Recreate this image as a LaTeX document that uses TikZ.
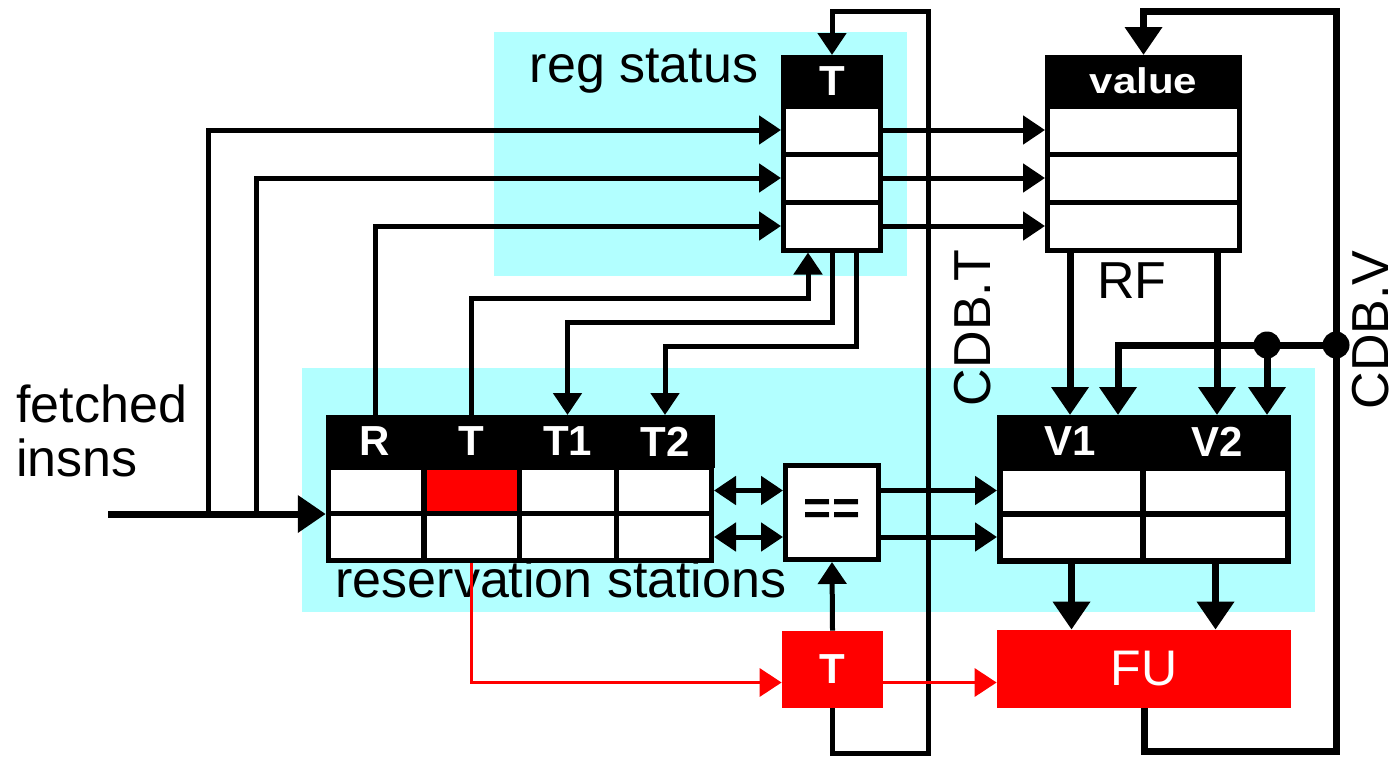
\documentclass[tikz,border=0pt]{standalone}
\usepackage{fontspec}
\setmainfont{Liberation Sans}
\usepackage{graphicx}
\usetikzlibrary{arrows.meta,calc}
\definecolor{cyanbg}{RGB}{178,255,255}
\definecolor{pred}{RGB}{255,0,0}
\begin{document}
\begin{tikzpicture}[x=0.5pt,y=-0.5pt,
  tagline/.style={line width=2.5pt},
  dataline/.style={line width=3.5pt},
  redline/.style={line width=1.75pt, draw=pred},
  sa/.style={-{Triangle[length=11pt,width=14pt]}},
  ba/.style={-{Triangle[length=14pt,width=18pt]}},
  da/.style={{Triangle[length=11pt,width=14pt]}-{Triangle[length=11pt,width=14pt]}},
  cell/.style={draw, line width=2.5pt, fill=white, inner sep=0pt},
  vcell/.style={draw, line width=3pt, fill=white, inner sep=0pt},
  hdr/.style={fill=black, text=white, inner sep=0pt, outer sep=0pt, font=\fontsize{21}{21}\selectfont\bfseries},
  lbl/.style={font=\fontsize{26}{30}\selectfont, inner sep=0pt},
]
\useasboundingbox (0,0) rectangle (1400,760);
% backgrounds
\fill[cyanbg] (494,32) rectangle (907,276);
\fill[cyanbg] (302,368) rectangle (1315,612);

% labels
\node[lbl, anchor=base] (lreg) at (644,82) {reg status};
\node[lbl, anchor=base west] (lfetch) at (16,422) {fetched};
\node[lbl, anchor=base west] (linsns) at (16,476) {insns};
\node[lbl, anchor=base] (lrf) at (1132,298) {RF};
\node[lbl, anchor=base] (lrs) at (561,597) {reservation stations};
\node[lbl, anchor=base, rotate=90] (lcdbt) at (990,328) {CDB.T};
\node[lbl, anchor=base, rotate=90] (lcdbv) at (1388,330) {CDB.V};

% reg status table
\node[hdr, minimum width=51pt, minimum height=26pt] (rsh) at (832,81) {T};
\node[cell, minimum width=48.5pt, minimum height=24pt] (rsr1) at (832,130) {};
\node[cell, minimum width=48.5pt, minimum height=24pt] (rsr2) at (832,178) {};
\node[cell, minimum width=48.5pt, minimum height=24pt] (rsr3) at (832,226) {};

% register file
\node[hdr, minimum width=98.5pt, minimum height=26pt] (rfh) at (1143.5,81) {\scalebox{1}[0.85]{\fontsize{21}{21}\selectfont\bfseries value}};
\node[cell, minimum width=96pt, minimum height=24pt] (rf1) at (1143.5,130) {};
\node[cell, minimum width=96pt, minimum height=24pt] (rf2) at (1143.5,178) {};
\node[cell, minimum width=96pt, minimum height=24pt] (rf3) at (1143.5,226) {};

% reservation station tag table
\node[hdr, minimum width=49.5pt, minimum height=26.5pt] (rshR) at (375,441.5) {R};
\node[hdr, minimum width=48pt, minimum height=26.5pt] (rshT) at (471.5,441.5) {T};
\node[hdr, minimum width=49pt, minimum height=26.5pt] (rshT1) at (567.5,441.5) {T1};
\node[hdr, minimum width=49.5pt, minimum height=26.5pt] (rshT2) at (665,441.5) {T2};
\node[cell, minimum width=47.75pt, minimum height=23pt] (rsRa) at (376,490.5) {};
\node[cell, minimum width=47.5pt, minimum height=23pt, fill=pred] (rsTa) at (471.5,490.5) {};
\node[cell, minimum width=48.5pt, minimum height=23pt] (rsT1a) at (567.5,490.5) {};
\node[cell, minimum width=47.75pt, minimum height=23pt] (rsT2a) at (663.75,490.5) {};
\node[cell, minimum width=47.75pt, minimum height=23.5pt] (rsRb) at (376,537) {};
\node[cell, minimum width=47.5pt, minimum height=23.5pt] (rsTb) at (471.5,537) {};
\node[cell, minimum width=48.5pt, minimum height=23.5pt] (rsT1b) at (567.5,537) {};
\node[cell, minimum width=47.75pt, minimum height=23.5pt] (rsT2b) at (663.75,537) {};

% reservation station value table
\node[hdr, minimum width=73pt, minimum height=26.5pt] (vh1) at (1070,441.5) {V1};
\node[hdr, minimum width=74pt, minimum height=26.5pt] (vh2) at (1217,441.5) {V2};
\node[vcell, minimum width=71.5pt, minimum height=23pt] (v1a) at (1071.5,490.5) {};
\node[vcell, minimum width=72.5pt, minimum height=23pt] (v2a) at (1215.5,490.5) {};
\node[vcell, minimum width=71.5pt, minimum height=23.5pt] (v1b) at (1071.5,537) {};
\node[vcell, minimum width=72.5pt, minimum height=23.5pt] (v2b) at (1215.5,537) {};

% comparator, tag register, functional unit
\node[cell, minimum width=46.5pt, minimum height=47pt, font=\fontsize{24}{24}\selectfont\bfseries] (eq) at (832,512.5) {==};
\node[fill=pred, text=white, inner sep=0pt, minimum width=50.5pt, minimum height=38.5pt, font=\fontsize{21}{21}\selectfont\bfseries] (tT) at (832.5,669.5) {T};
\node[fill=pred, text=white, inner sep=0pt, minimum width=147pt, minimum height=39pt, font=\fontsize{25}{25}\selectfont] (fu) at (1144,669) {FU};

% coordinates
\coordinate (fin) at (108,514);
\coordinate (j1) at (208,514);
\coordinate (j2) at (256,514);
\coordinate (cbtB) at (928,753);
\coordinate (cbtT) at (928,11);
\coordinate (cbvB) at (1336,751);
\coordinate (cbvT) at (1336,11);
\coordinate (d1) at (1336,345);
\coordinate (d2) at (1267,345);

% fetched instructions
\draw[dataline, ba] (fin) -- (fin -| rsRa.west);
\draw[tagline, sa] (j1) |- (rsr1.west);
\draw[tagline, sa] (j2) |- (rsr2.west);
\draw[tagline, sa] (rshR.north) |- (rsr3.west);

% tags between reg status and RS
\draw[tagline, sa] (rshT.north) |- (808,298) -- ([xshift=-12pt]rsr3.south);
\draw[tagline, sa] (rsr3.south) -- (832,322) -| (rshT1.north);
\draw[tagline, sa] ([xshift=12pt]rsr3.south) -- (856,346) -| (rshT2.north);

% reg status to RF
\draw[tagline, sa] (rsr1.east) -- (rf1.west);
\draw[tagline, sa] (rsr2.east) -- (rf2.west);
\draw[tagline, sa] (rsr3.east) -- (rf3.west);

% CDB.T loop
\draw[tagline, sa] (tT.south) |- (cbtB) -- (cbtT) -| (rsh.north);
\draw[tagline, sa] (tT.north) -- (eq.south);

% CDB.V loop
\draw[dataline, ba] (fu.south) |- (cbvB) -- (cbvT) -| (rfh.north);
\draw[dataline, ba] (rf3.south -| vh1.north) -- (vh1.north);
\draw[dataline, ba] (rf3.south -| vh2.north) -- (vh2.north);
\draw[dataline, ba] (d1) -| ([xshift=24pt]vh1.north);
\draw[dataline, ba] (d2) -- (d2 |- vh2.north);
\fill (d1) circle (6.75pt);
\fill (d2) circle (6.75pt);

% values to FU
\draw[dataline, ba] (v1b.south) -- (v1b.south |- fu.north);
\draw[dataline, ba] (v2b.south) -- (v2b.south |- fu.north);

% comparator connections
\draw[tagline, da] (rsT2a.east) -- (rsT2a.east -| eq.west);
\draw[tagline, da] (rsT2b.east) -- (rsT2b.east -| eq.west);
\draw[tagline, sa] (eq.east |- v1a.west) -- (v1a.west);
\draw[tagline, sa] (eq.east |- v1b.west) -- (v1b.west);

% red issue path
\draw[redline, sa] (rsTb.south) |- ([yshift=-6.5pt]tT.west);
\draw[redline, sa] ([yshift=-6.5pt]tT.east) -- ([yshift=-6.5pt]tT.east -| fu.west);
\end{tikzpicture}
\end{document}
